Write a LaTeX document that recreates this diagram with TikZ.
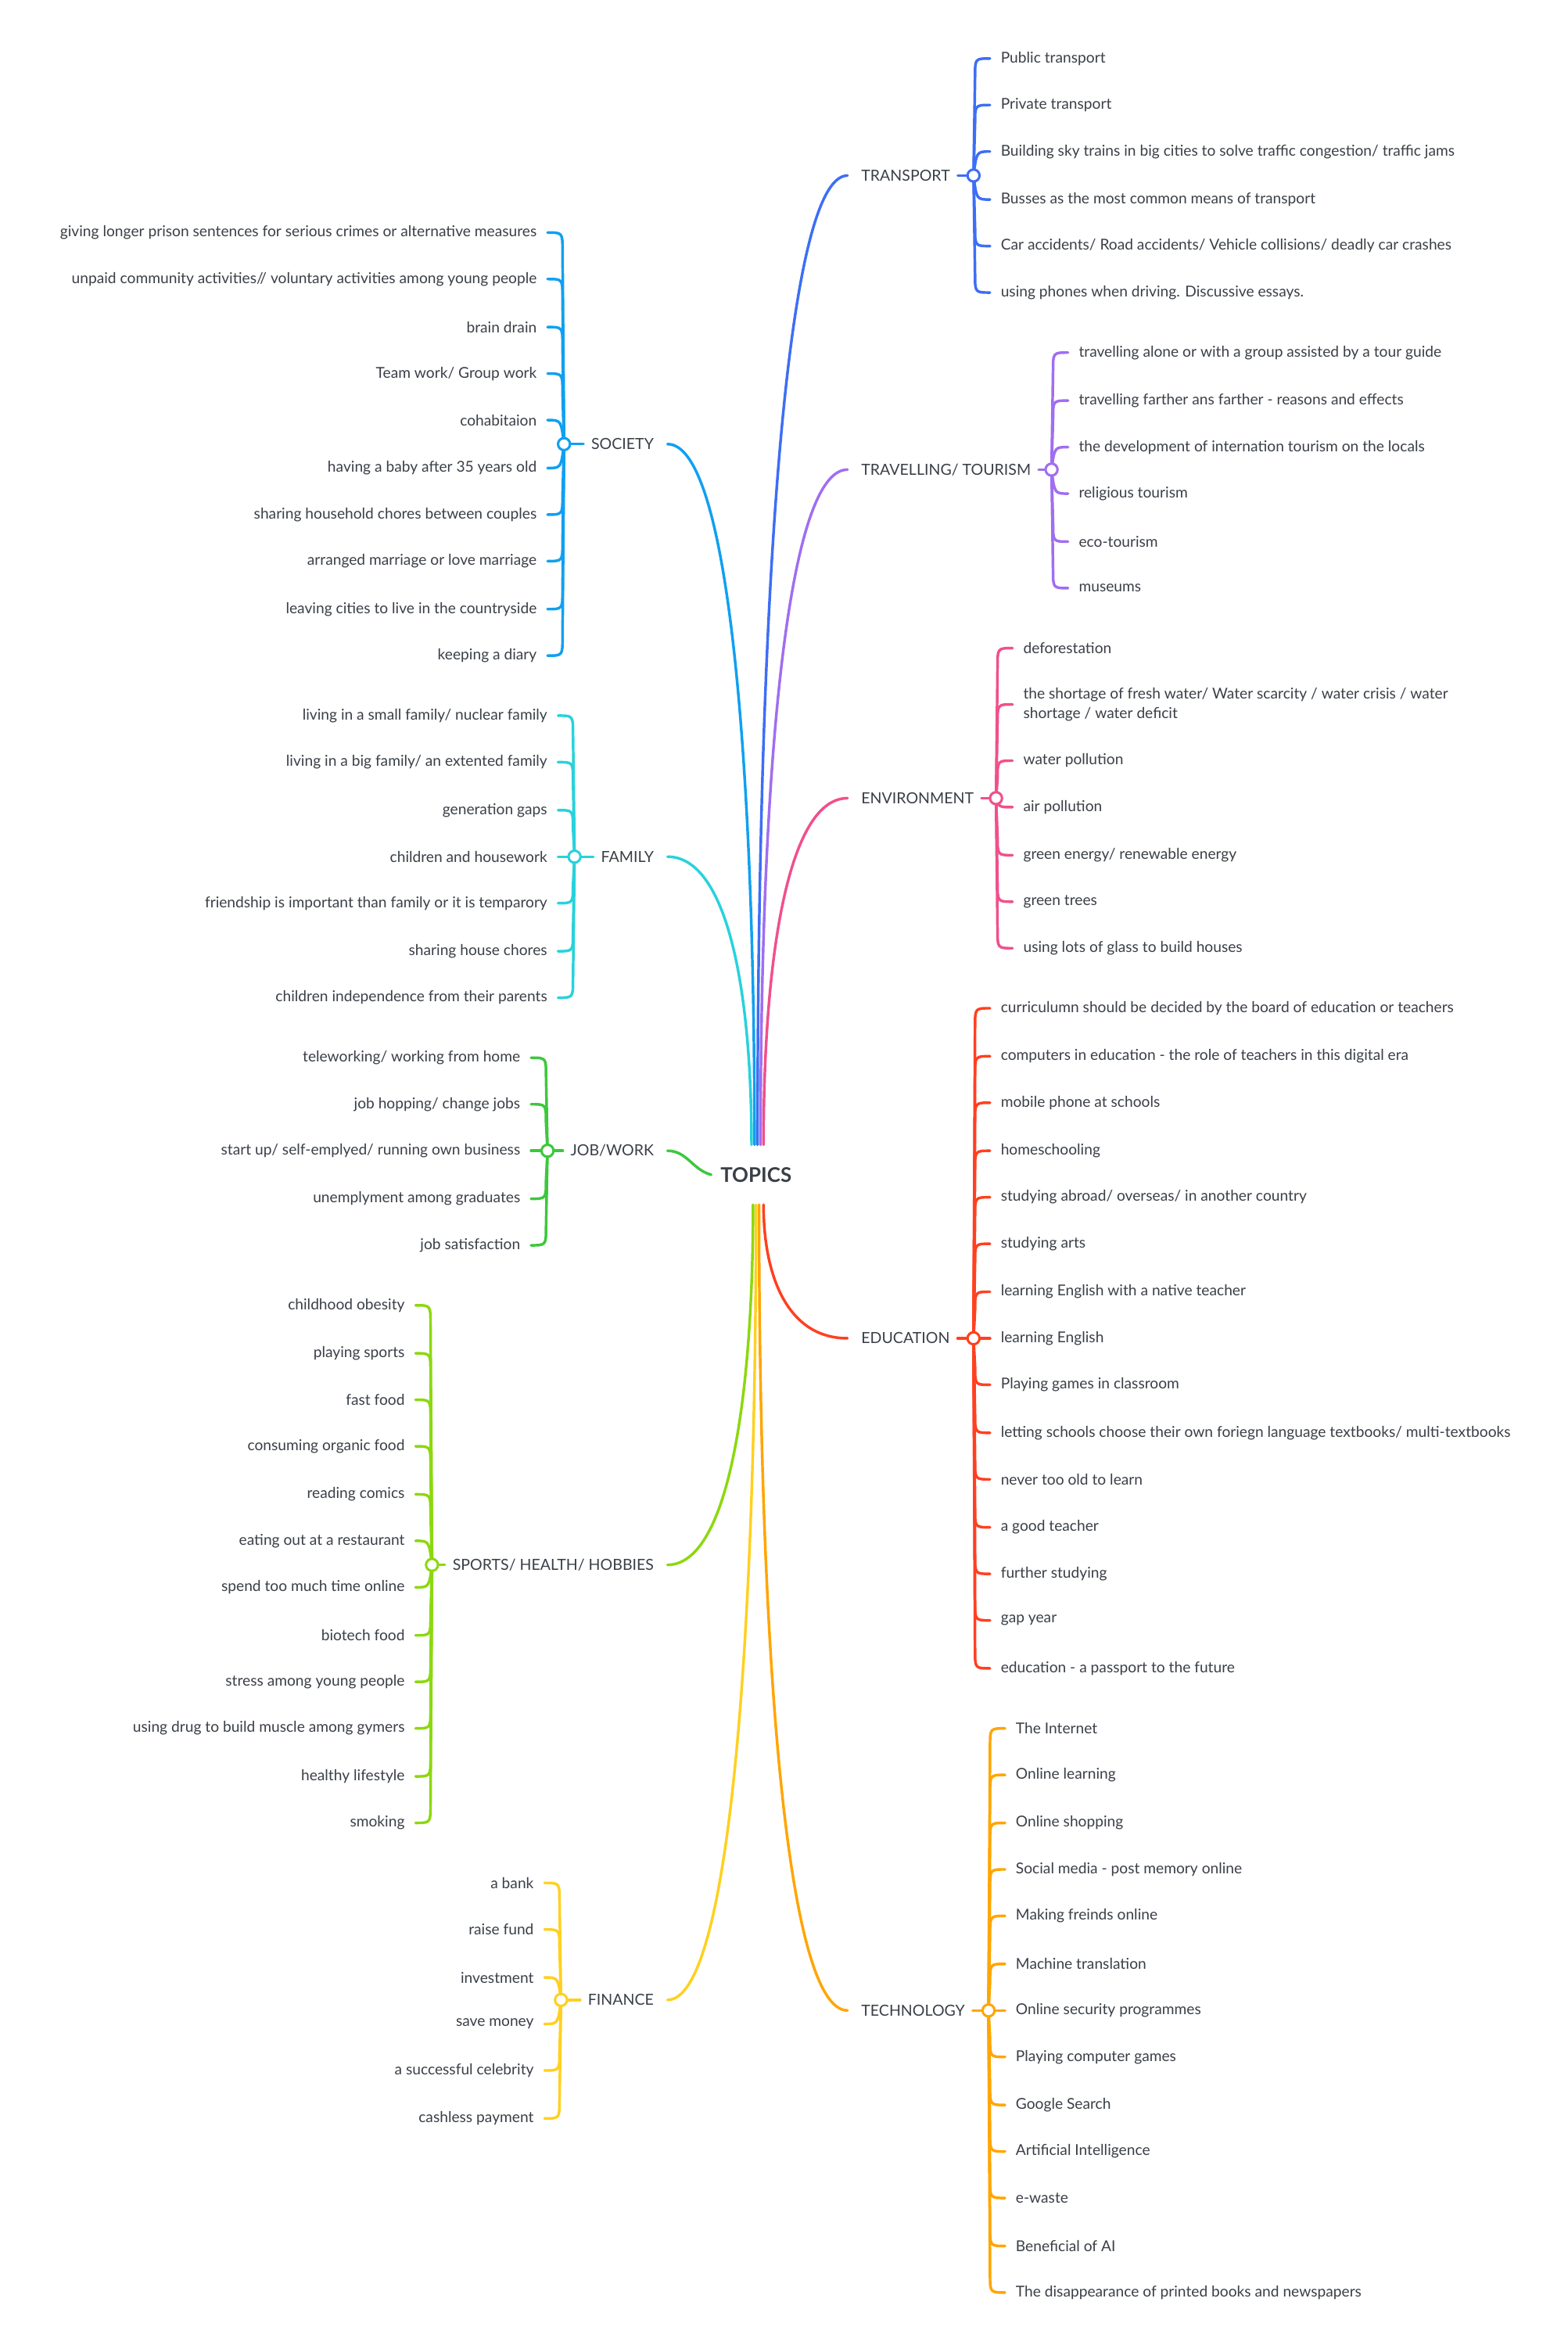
\documentclass[tikz,border=0pt]{standalone}
\usepackage{fontspec}
\setmainfont{Lato}
\usetikzlibrary{calc}
\definecolor{txt}{HTML}{3A3F47}
\definecolor{cTr}{HTML}{3D6EF5}
\definecolor{cTo}{HTML}{A06EF0}
\definecolor{cEn}{HTML}{F0508C}
\definecolor{cEd}{HTML}{FF4020}
\definecolor{cTe}{HTML}{FFA500}
\definecolor{cFi}{HTML}{FFD020}
\definecolor{cSp}{HTML}{8CD810}
\definecolor{cJo}{HTML}{3CC83C}
\definecolor{cFa}{HTML}{28D2DC}
\definecolor{cSo}{HTML}{10A0F0}
\tikzset{
  br/.style={line width=1.8pt,line cap=round},
  topic/.style={font=\fontsize{10.2}{12}\selectfont,text=txt,inner sep=1pt},
  leaf/.style={font=\fontsize{10}{13}\selectfont,text=txt,inner sep=1pt,align=left},
  hub/.style={circle,fill=white,line width=1.6pt,minimum size=8pt,inner sep=0pt}
}
% curve from root anchor #2 to point #3 in colour #1
\newcommand\RC[3]{%
  \draw[#1,br] let \p1=(#2), \p2=(#3) in (\p1) .. controls (\x1,{\y1+0.55*(\y2-\y1)}) and ({\x2-0.7*(\x2-\x1)},\y2) .. (\p2);
}
\newcommand\RG[7]{% name, color, label, label y, hub x, list, root anchor
  \node[topic,anchor=west] (#1) at (573,#4) {#3};
  \RC{#2}{#7}{[xshift=-8pt]#1.west}
  \coordinate (#1hc) at (#5,#4);
  \draw[#2,br] ([xshift=4pt]#1.east) -- (#1hc);
  \foreach \y/\t [count=\i] in {#6} {
    \node[leaf,anchor=west] (#1\i) at (#5+17,\y) {\t};
    \pgfmathsetmacro\d{\y-#4}
    \pgfmathsetmacro\s{\d<0?-1:1}
    \pgfmathparse{abs(\d)<20?1:0}
    \ifnum\pgfmathresult=1
      \draw[#2,br] (#1hc) .. controls (#5+2,\y) .. ([xshift=-6pt]#1\i.west);
    \else
      \draw[#2,br] (#1hc) -- (#5+1,\y-\s*12) .. controls (#5+1,\y) .. ([xshift=-6pt]#1\i.west);
    \fi
  }
  \node[hub,draw=#2] (#1h) at (#1hc) {};
}
\newcommand\LG[6]{%
  \node[topic,anchor=east] (#1) at (437,#4) {#3};
  \RC{#2}{#6}{[xshift=8pt]#1.east}
  \coordinate (#1hc) at (#5,#4);
  \draw[#2,br] ([xshift=-4pt]#1.west) -- (#1hc);
}
\newcommand\LGleaves[5]{%
  \foreach \y/\t [count=\i] in {#5} {
    \node[leaf,anchor=east,align=right] (#1\i) at (#4-17,\y) {\t};
    \pgfmathsetmacro\d{\y-#3}
    \pgfmathsetmacro\s{\d<0?-1:1}
    \pgfmathparse{abs(\d)<20?1:0}
    \ifnum\pgfmathresult=1
      \draw[#2,br] (#1hc) .. controls (#4-2,\y) .. ([xshift=6pt]#1\i.east);
    \else
      \draw[#2,br] (#1hc) -- (#4-1,\y-\s*12) .. controls (#4-1,\y) .. ([xshift=6pt]#1\i.east);
    \fi
  }
  \node[hub,draw=#2] (#1h) at (#1hc) {};
}
\begin{document}
\begin{tikzpicture}[x=1pt,y=-1pt]
\useasboundingbox (0,0) rectangle (1045,1563);
\node[font=\fontsize{13.5}{15}\selectfont\bfseries,text=txt,minimum height=40pt,inner sep=4pt] (root) at (504,783) {TOPICS};
\coordinate (rn1) at (505,763); \coordinate (rn2) at (507,763); \coordinate (rn3) at (509,763);
\coordinate (rs1) at (509,803); \coordinate (rs2) at (506,803);
\coordinate (ln1) at (503,763); \coordinate (ln2) at (501,763);
\coordinate (ls1) at (502,803); \coordinate (ls2) at (504,803);

\RG{tr}{cTr}{TRANSPORT}{117}{649}{39/{Public transport},70/{Private transport},101/{Building sky trains in big cities to solve traffic congestion/ traffic jams},133/{Busses as the most common means of transport},164/{Car accidents/ Road accidents/ Vehicle collisions/ deadly car crashes},195/{using phones when driving. Discussive essays.}}{rn1}
\RG{to}{cTo}{TRAVELLING/ TOURISM}{313}{701}{235/{travelling alone or with a group assisted by a tour guide},267/{travelling farther ans farther - reasons and effects},298/{the development of internation tourism on the locals},329/{religious tourism},361/{eco-tourism},392/{museums}}{rn2}
\RG{en}{cEn}{ENVIRONMENT}{532}{664}{432/{deforestation},469.5/{the shortage of fresh water/ Water scarcity / water crisis / water\\shortage / water deficit},507/{water pollution},538/{air pollution},570/{green energy/ renewable energy},601/{green trees},632/{using lots of glass to build houses}}{rn3}

\node[topic,anchor=west] (ed) at (573,892) {EDUCATION};
\RC{cEd}{rs1}{[xshift=-8pt]ed.west}
\coordinate (edhc) at (649,892);
\draw[cEd,br] ([xshift=4pt]ed.east) -- (edhc);
\foreach \y/\t [count=\i] in {672/{curriculumn should be decided by the board of education or teachers},704/{computers in education - the role of teachers in this digital era},735/{mobile phone at schools},767/{homeschooling},798/{studying abroad/ overseas/ in another country},829/{studying arts},861/{learning English with a native teacher},892/{learning English},923/{Playing games in classroom},955/{letting schools choose their own foriegn language textbooks/ multi-textbooks},986/{never too old to learn},1018/{a good teacher},1049/{further studying},1080/{gap year},1112/{education - a passport to the future}} {
  \node[leaf,anchor=west] (ed\i) at (666,\y) {\t};
  \pgfmathsetmacro\d{\y-892}
  \pgfmathsetmacro\s{\d<0?-1:1}
  \pgfmathparse{abs(\d)<20?1:0}
  \ifnum\pgfmathresult=1
    \draw[cEd,br] (edhc) .. controls (651,\y) .. ([xshift=-6pt]ed\i.west);
  \else
    \draw[cEd,br] (edhc) -- (650,\y-\s*12) .. controls (650,\y) .. ([xshift=-6pt]ed\i.west);
  \fi
}
\node[hub,draw=cEd] (edh) at (edhc) {};

\node[topic,anchor=west] (te) at (573,1340) {TECHNOLOGY};
\RC{cTe}{rs2}{[xshift=-8pt]te.west}
\coordinate (tehc) at (659,1340);
\draw[cTe,br] ([xshift=4pt]te.east) -- (tehc);
\foreach \y/\t [count=\i] in {1152/{The Internet},1183/{Online learning},1215/{Online shopping},1246/{Social media - post memory online},1277/{Making freinds online},1309/{Machine translation},1340/{Online security programmes},1371/{Playing computer games},1403/{Google Search},1434/{Artificial Intelligence},1465/{e-waste},1497/{Beneficial of AI},1528/{The disappearance of printed books and newspapers}} {
  \node[leaf,anchor=west] (te\i) at (676,\y) {\t};
  \pgfmathsetmacro\d{\y-1340}
  \pgfmathsetmacro\s{\d<0?-1:1}
  \pgfmathparse{abs(\d)<20?1:0}
  \ifnum\pgfmathresult=1
    \draw[cTe,br] (tehc) .. controls (661,\y) .. ([xshift=-6pt]te\i.west);
  \else
    \draw[cTe,br] (tehc) -- (660,\y-\s*12) .. controls (660,\y) .. ([xshift=-6pt]te\i.west);
  \fi
}
\node[hub,draw=cTe] (teh) at (tehc) {};

% left side
\LG{so}{cSo}{SOCIETY}{296}{376}{ln1}
\LGleaves{so}{cSo}{296}{376}{155/{giving longer prison sentences for serious crimes or alternative measures},186/{unpaid community activities// voluntary activities among young people},218/{brain drain},249/{Team work/ Group work},280/{cohabitaion},312/{having a baby after 35 years old},343/{sharing household chores between couples},374/{arranged marriage or love marriage},406/{leaving cities to live in the countryside},437/{keeping a diary}}
\LG{fa}{cFa}{FAMILY}{571}{383}{ln2}
\LGleaves{fa}{cFa}{571}{383}{477/{living in a small family/ nuclear family},508/{living in a big family/ an extented family},540/{generation gaps},571/{children and housework},602/{friendship is important than family or it is temparory},634/{sharing house chores},665/{children independence from their parents}}

\node[topic,anchor=east] (jo) at (437,767) {JOB/WORK};
\draw[cJo,br] ([xshift=8pt]jo.east) to[out=0,in=165] ([xshift=-2pt]root.west);
\coordinate (johc) at (365,767);
\draw[cJo,br] ([xshift=-4pt]jo.west) -- (johc);
\LGleaves{jo}{cJo}{767}{365}{705/{teleworking/ working from home},736/{job hopping/ change jobs},767/{start up/ self-emplyed/ running own business},799/{unemplyment among graduates},830/{job satisfaction}}

\LG{sp}{cSp}{SPORTS/ HEALTH/ HOBBIES}{1043}{288}{ls1}
\LGleaves{sp}{cSp}{1043}{288}{870/{childhood obesity},902/{playing sports},933/{fast food},964/{consuming organic food},996/{reading comics},1027/{eating out at a restaurant},1058/{spend too much time online},1090/{biotech food},1121/{stress among young people},1152/{using drug to build muscle among gymers},1184/{healthy lifestyle},1215/{smoking}}
\LG{fi}{cFi}{FINANCE}{1333}{374}{ls2}
\LGleaves{fi}{cFi}{1333}{374}{1255/{a bank},1286/{raise fund},1318/{investment},1349/{save money},1380/{a successful celebrity},1412/{cashless payment}}
\end{tikzpicture}
\end{document}
